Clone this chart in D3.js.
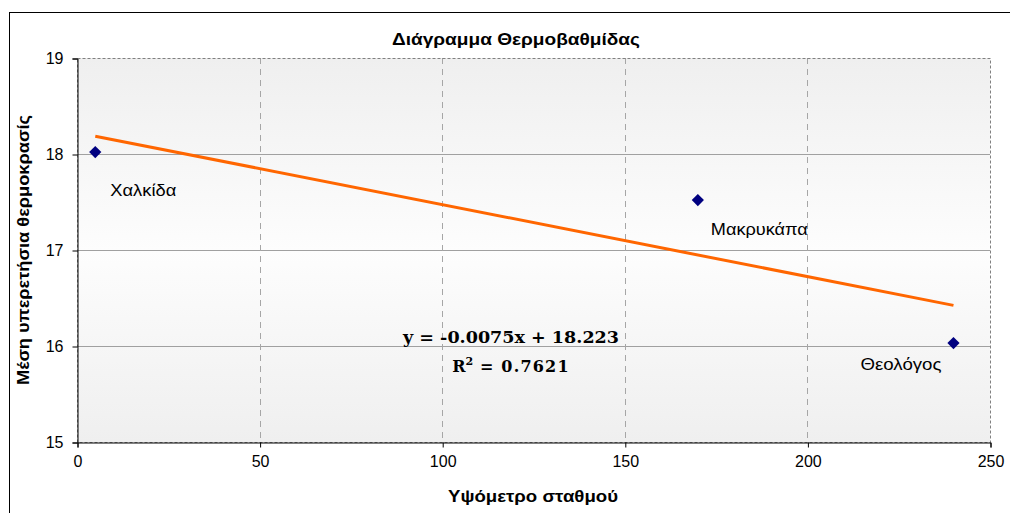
<!DOCTYPE html>
<html>
<head>
<meta charset="utf-8">
<script src="https://cdn.jsdelivr.net/npm/d3@7"></script>
<style>
  html, body { margin: 0; padding: 0; background: #fff; }
  svg { display: block; }
</style>
</head>
<body>
<svg id="chart" width="1010" height="513"></svg>
<script>
// ---- data ----
const stations = ["Χαλκίδα", "Μακρυκάπα", "Θεολόγος"];
const altitudes = [5, 170, 240];
const temperatures = [18.02, 17.52, 16.03];
const trendSlope = -0.0075;
const trendIntercept = 18.223;
const rSquared = "0.7621";
const xTicks = [0, 50, 100, 150, 200, 250];
const yTicks = [15, 16, 17, 18, 19];
const titleText = "Διάγραμμα Θερμοβαθμίδας";
const xLabel = "Υψόμετρο σταθμού";
const yLabel = "Μέση υπερετήσια θερμοκρασίς";

// ---- layout ----
const FONT = "Arial, 'Liberation Sans', sans-serif";
const svg = d3.select("#chart");
const plot = { left: 77, right: 990, top: 58, bottom: 442 };
const x = d3.scaleLinear().domain([0, 250]).range([plot.left, plot.right]);
const y = d3.scaleLinear().domain([15, 19]).range([plot.bottom, plot.top]);

// outer chart border
svg.append("rect").attr("x", 9.5).attr("y", 12.5).attr("width", 1010).attr("height", 510)
  .attr("fill", "#fff").attr("stroke", "#000").attr("stroke-width", 1);

// plot background gradient
const defs = svg.append("defs");
const grad = defs.append("linearGradient").attr("id", "bg").attr("x1", 0).attr("y1", 0).attr("x2", 0).attr("y2", 1);
grad.append("stop").attr("offset", "0%").attr("stop-color", "#efefef");
grad.append("stop").attr("offset", "50%").attr("stop-color", "#fdfdfd");
grad.append("stop").attr("offset", "100%").attr("stop-color", "#efefef");
svg.append("rect").attr("x", plot.left).attr("y", plot.top)
  .attr("width", plot.right - plot.left).attr("height", plot.bottom - plot.top)
  .attr("fill", "url(#bg)");

// gridlines
svg.append("g").selectAll("line").data(yTicks.filter(d => d > 15 && d < 19)).join("line")
  .attr("x1", plot.left).attr("x2", plot.right)
  .attr("y1", d => Math.round(y(d)) + 0.5).attr("y2", d => Math.round(y(d)) + 0.5)
  .attr("stroke", "#a0a0a0").attr("stroke-width", 1);
svg.append("g").selectAll("line").data(xTicks.filter(d => d > 0 && d < 250)).join("line")
  .attr("x1", d => Math.round(x(d)) + 0.5).attr("x2", d => Math.round(x(d)) + 0.5)
  .attr("y1", plot.top).attr("y2", plot.bottom)
  .attr("stroke", "#a6a6a6").attr("stroke-width", 1).attr("stroke-dasharray", "6,5");

// plot border dashed
svg.append("rect").attr("x", plot.left + 0.5).attr("y", plot.top + 0.5)
  .attr("width", plot.right - plot.left).attr("height", plot.bottom - plot.top)
  .attr("fill", "none").attr("stroke", "#808080").attr("stroke-width", 1).attr("stroke-dasharray", "3,2");

// axes
const xAxis = d3.axisBottom(x).tickValues(xTicks).tickSize(5).tickPadding(8).tickFormat(d3.format("d"));
const yAxis = d3.axisLeft(y).tickValues(yTicks).tickSize(5).tickPadding(9).tickFormat(d3.format("d"));
const gx = svg.append("g").attr("transform", `translate(0.5,${plot.bottom + 0.5})`).call(xAxis);
const gy = svg.append("g").attr("transform", `translate(${plot.left + 0.5},0.5)`).call(yAxis);
[gx, gy].forEach(g => {
  g.select(".domain").attr("stroke", "#000");
  g.selectAll(".tick line").attr("stroke", "#000");
  g.selectAll("text").attr("font-family", FONT)
    .attr("font-size", 16).attr("fill", "#000");
});

// trendline
const trendX = [d3.min(altitudes), d3.max(altitudes)];
svg.append("line")
  .attr("x1", x(trendX[0])).attr("y1", y(trendIntercept + trendSlope * trendX[0]))
  .attr("x2", x(trendX[1])).attr("y2", y(trendIntercept + trendSlope * trendX[1]))
  .attr("stroke", "#ff6600").attr("stroke-width", 3);

// points
const pts = stations.map((s, i) => ({ name: s, x: altitudes[i], y: temperatures[i] }));
svg.append("g").selectAll("path").data(pts).join("path")
  .attr("d", d3.symbol().type(d3.symbolDiamond2).size(95))
  .attr("transform", d => `translate(${x(d.x)},${y(d.y)})`)
  .attr("fill", "#000080");

// point labels
const labelOffsets = [[15, 44], [13, 35], [-93, 27]];
const labelWidths = [66, 97, 81];
svg.append("g").selectAll("text").data(pts).join("text")
  .attr("x", (d, i) => x(d.x) + labelOffsets[i][0])
  .attr("y", (d, i) => y(d.y) + labelOffsets[i][1])
  .attr("textLength", (d, i) => labelWidths[i]).attr("lengthAdjust", "spacingAndGlyphs")
  .attr("font-family", FONT).attr("font-size", 17)
  .attr("fill", "#000").text(d => d.name);

// equation
const eq = svg.append("g").attr("font-family", "'DejaVu Serif', serif").attr("font-weight", "bold")
  .attr("font-size", 16).attr("fill", "#000").attr("text-anchor", "middle");
eq.append("text").attr("x", 511).attr("y", 343)
  .attr("textLength", 216).attr("lengthAdjust", "spacingAndGlyphs")
  .text(`y = ${trendSlope}x + ${trendIntercept}`);
const r2 = eq.append("text").attr("x", 511).attr("y", 372);
r2.append("tspan").text("R");
r2.append("tspan").attr("dy", -7).attr("font-size", 11).text("2");
r2.append("tspan").attr("dy", 7).attr("letter-spacing", 1.2).text(` = ${rSquared}`);

// title and axis labels
svg.append("text").attr("x", 516).attr("y", 45).attr("text-anchor", "middle")
  .attr("textLength", 248).attr("lengthAdjust", "spacingAndGlyphs")
  .attr("font-family", FONT).attr("font-weight", "bold")
  .attr("font-size", 16).text(titleText);
svg.append("text").attr("x", 533).attr("y", 502).attr("text-anchor", "middle")
  .attr("textLength", 170).attr("lengthAdjust", "spacingAndGlyphs")
  .attr("font-family", FONT).attr("font-weight", "bold")
  .attr("font-size", 16).text(xLabel);
svg.append("text").attr("transform", `translate(29,${(plot.top + plot.bottom) / 2}) rotate(-90)`)
  .attr("text-anchor", "middle")
  .attr("textLength", 270).attr("lengthAdjust", "spacingAndGlyphs")
  .attr("font-family", FONT).attr("font-weight", "bold")
  .attr("font-size", 16).text(yLabel);
</script>
</body>
</html>
